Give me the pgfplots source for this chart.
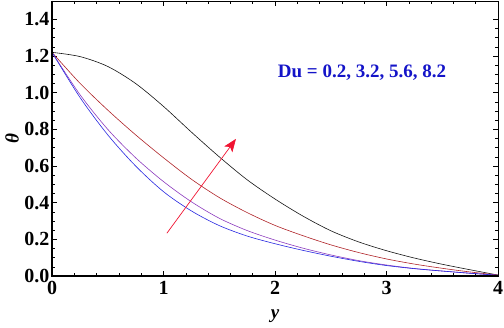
\documentclass[border=0pt]{standalone}
\usepackage{pgfplots}
\pgfplotsset{compat=1.18}
\usepackage{fontspec}
\setmainfont{Liberation Serif}
\usetikzlibrary{arrows.meta}
\definecolor{cblack}{RGB}{20,20,20}
\definecolor{cred}{RGB}{175,35,40}
\definecolor{cpurple}{RGB}{140,60,190}
\definecolor{cblue}{RGB}{40,40,225}
\definecolor{carrow}{RGB}{240,20,50}
\definecolor{ctext}{RGB}{20,20,200}
\begin{document}
\begin{tikzpicture}
\begin{axis}[
  name=ax,
  scale only axis,
  width=446bp, height=275bp,
  xmin=0, xmax=4, ymin=0, ymax=1.5,
  xtick={0,1,2,3,4},
  xticklabels={0,1,2,3,4},
  ytick={0,0.2,0.4,0.6,0.8,1.0,1.2,1.4},
  yticklabels={0.0,0.2,0.4,0.6,0.8,1.0,1.2,1.4},
  minor x tick num=4,
  minor y tick num=3,
  major tick length=5bp,
  minor tick length=3bp,
  tick style={black, line width=0.5bp},
  axis line style={line width=0.6bp},
  tick label style={font=\fontsize{20bp}{22bp}\selectfont\bfseries},
  yticklabel style={xshift=1bp},
  xticklabel style={yshift=-2bp},
  xlabel={\textbf{\textit{y}}},
  ylabel={\textbf{\textit{θ}}},
  every axis x label/.style={at={(axis description cs:0.5,0)}, anchor=center, yshift=-40bp, font=\fontsize{19bp}{21bp}\selectfont},
  every axis y label/.style={at={([xshift=-40bp]axis description cs:0,0.5)}, rotate=90, anchor=center, font=\fontsize{19bp}{21bp}\selectfont},
  clip=true,
]
\addplot[cblack, line width=0.6bp, smooth] coordinates {
 (0,1.22) (0.25,1.197) (0.5,1.143) (0.75,1.05) (1.0,0.925) (1.25,0.785) (1.5,0.65) (1.75,0.525) (2.0,0.42) (2.25,0.327) (2.5,0.247) (2.75,0.186) (3.0,0.138) (3.25,0.098) (3.5,0.064) (3.75,0.034) (4.0,0.005)};
\addplot[cred, line width=0.6bp, smooth] coordinates {
 (0,1.22) (0.25,1.052) (0.5,0.905) (0.75,0.77) (1.0,0.645) (1.25,0.528) (1.5,0.428) (1.75,0.346) (2.0,0.276) (2.25,0.22) (2.5,0.17) (2.75,0.128) (3.0,0.093) (3.25,0.065) (3.5,0.042) (3.75,0.022) (4.0,0.005)};
\addplot[cpurple, line width=0.6bp, smooth] coordinates {
 (0,1.22) (0.25,0.99) (0.5,0.80) (0.75,0.645) (1.0,0.515) (1.25,0.405) (1.5,0.315) (1.75,0.248) (2.0,0.196) (2.25,0.152) (2.5,0.115) (2.75,0.084) (3.0,0.06) (3.25,0.041) (3.5,0.027) (3.75,0.015) (4.0,0.004)};
\addplot[cblue, line width=0.6bp, smooth] coordinates {
 (0,1.22) (0.25,0.975) (0.5,0.77) (0.75,0.60) (1.0,0.46) (1.25,0.355) (1.5,0.275) (1.75,0.218) (2.0,0.176) (2.25,0.14) (2.5,0.108) (2.75,0.08) (3.0,0.057) (3.25,0.04) (3.5,0.027) (3.75,0.015) (4.0,0.004)};
\draw[carrow, line width=0.7bp, -{Stealth[length=13bp, width=10bp, inset=3bp]}] (axis cs:1.03,0.233) -- (axis cs:1.65,0.748);
\node[text=ctext, font=\fontsize{19bp}{21bp}\selectfont\bfseries] at (axis cs:2.78,1.11) {Du = 0.2, 3.2, 5.6, 8.2};
\end{axis}
\draw[line width=1.3bp] (ax.north west) -- (ax.south west) -- (ax.south east);
\pgfresetboundingbox
\path ([shift={(-52bp,-52bp)}]ax.south west) rectangle ([shift={(6bp,1bp)}]ax.north east);
\end{tikzpicture}
\end{document}
